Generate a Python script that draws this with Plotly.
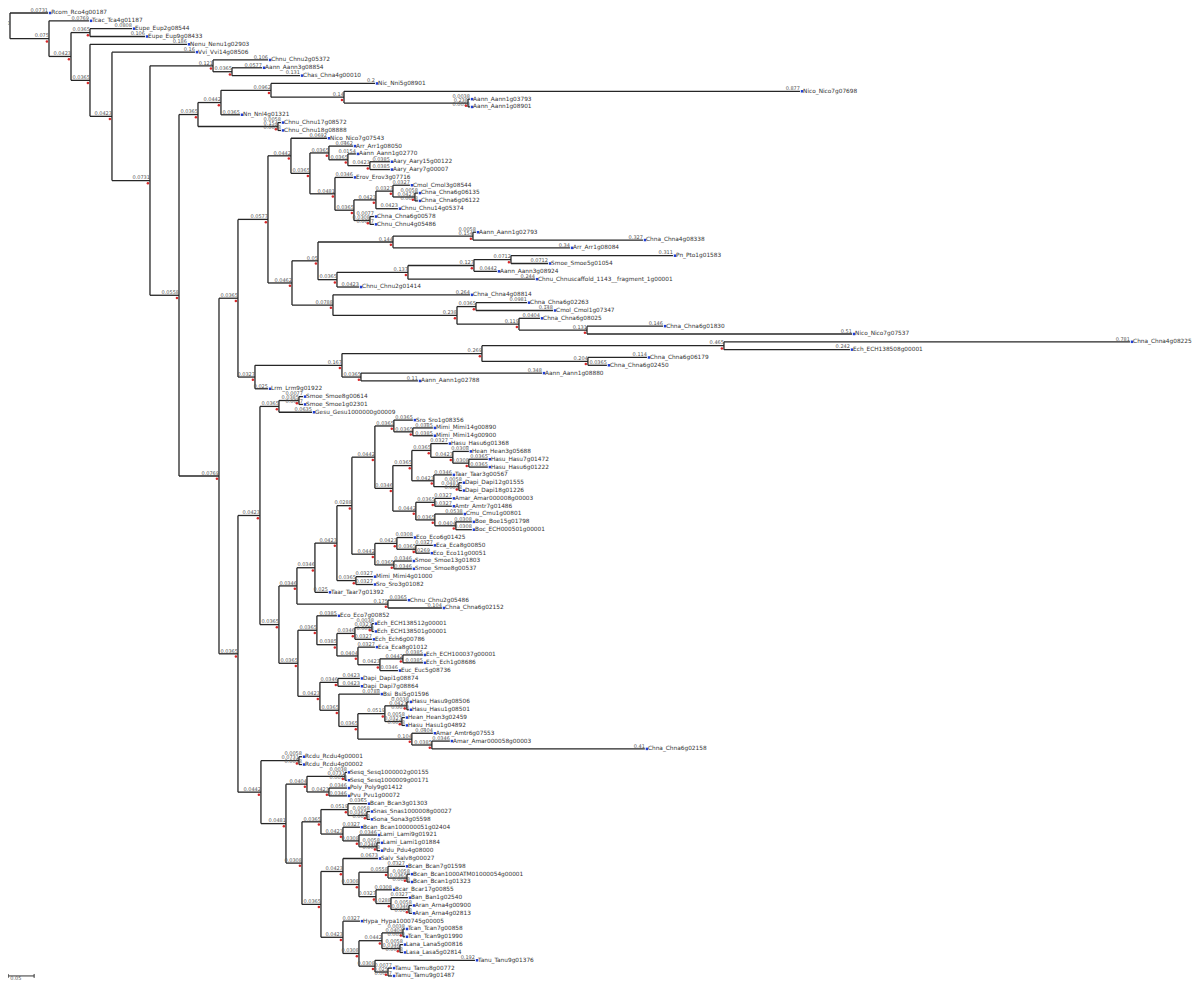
import plotly.graph_objects as go

# ---- tree data (newick pieces, branch lengths in substitutions/site) ----
clade_g = "(Chnu_Chnu2g05372:0.1058,(Aann_Aann3g08854:0.0577,Chas_Chna4g00010:0.1308):0.0365)"

clade_j = ("(((Nic_Nni5g08901:0.2,(Nico_Nico7g07698:0.8769,(Aann_Aann1g03793:0.0038,"
           "Aann_Aann1g08901:0.0038):0.2385):0.1404):0.0962,Nn_Nnl4g01321:0.0365):0.0442,"
           "(Chnu_Chnu17g08572:0.0058,Chnu_Chnu18g08888:0.0058):0.1538)")

clade_u = ("(Nico_Nico7g07543:0.0692,((Arr_Arr1g08050:0.0462,(Aann_Aann1g02770:0.0154,"
           "(Aary_Aary15g00122:0.0385,Aary_Aary7g00007:0.0385):0.0423):0.0365):0.0365,"
           "(Erov_Erov3g07716:0.0346,(((Cmol_Cmol3g08544:0.0327,(Chna_Chna6g06135:0.0058,"
           "Chna_Chna6g06122:0.0058):0.0423):0.0327,Chnu_Chnu14g05374:0.0423):0.0423,"
           "(Chna_Chna6g00578:0.0077,Chnu_Chnu4g05486:0.0077):0.0308):0.0365):0.0481):0.0365)")

clade_aa = ("((((Aann_Aann1g02793:0.0058,Chna_Chna4g08338:0.3269):0.1538,Arr_Arr1g08084:0.3404):0.1442,"
            "((((Pn_Pto1g01583:0.3115,Smoe_Smoe5g01054:0.0712):0.0712,Aann_Aann3g08924:0.0442):0.1269,"
            "Chnu_Chnuscaffold_1143__fragment_1g00001:0.2442):0.1365,Chnu_Chnu2g01414:0.0423):0.0365):0.05,"
            "(Chna_Chna4g08814:0.2635,((Chna_Chna6g02263:0.0981,Cmol_Cmol1g07347:0.1481):0.0365,"
            "(Chna_Chna6g08025:0.0404,(Chna_Chna6g01830:0.1462,Nico_Nico7g07537:0.5096):0.1308):0.1192):0.2385):0.0788)")

clade_an = ("((((Chna_Chna4g08225:0.7808,Ech_ECH138508g00001:0.2423):0.4654,"
            "(Chna_Chna6g06179:0.1135,Chna_Chna6g02450:0.0365):0.2038):0.2692,"
            "(Aann_Aann1g08880:0.3481,Aann_Aann1g02788:0.1096):0.0365):0.1673,Lrm_Lrm9g01922:0.025)")

clade_bc = "((Smoe_Smoe8g00614:0.0077,Smoe_Smoe1g02301:0.0077):0.0385,Gesu_Gesu1000000g00009:0.0635)"
clade_bk = "(Sro_Sro1g08356:0.0365,(Mimi_Mimi14g00890:0.0385,Mimi_Mimi14g00900:0.0385):0.0365)"
clade_bo = ("(Hasu_Hasu6g01368:0.0327,(Hean_Hean3g05688:0.0308,(Hasu_Hasu7g01472:0.0365,"
            "Hasu_Hasu6g01222:0.0365):0.0308):0.0423)")
clade_br = "(Taar_Taar3g00567:0.0346,(Dapi_Dapi12g01555:0.0058,Dapi_Dapi18g01226:0.0058):0.0481)"
clade_bt = ("((Amar_Amar000008g00003:0.0327,Amtr_Amtr7g01486:0.0327):0.0365,(Cmu_Cmu1g00801:0.0538,"
            "(Boe_Boe15g01798:0.0308,Boc_ECH000501g00001:0.0308):0.0404):0.0365)")
clade_bx = ("((Eco_Eco6g01425:0.0308,(Eca_Eca8g00850:0.0327,Eco_Eco11g00051:0.0269):0.0365):0.0423,"
            "(Smoe_Smoe13g01803:0.0346,Smoe_Smoe8g00537:0.0346):0.0365)")
clade_cb = "(Mimi_Mimi4g01000:0.0327,Sro_Sro3g01082:0.0327)"
clade_cc = "(Chnu_Chnu2g05486:0.0365,Chna_Chna6g02152:0.1038)"
clade_cg = "((Ech_ECH138512g00001:0.0038,Ech_ECH138501g00001:0.0038):0.0327,Ech_Ech6g00786:0.0327)"
clade_ci = ("(Eca_Eca8g01012:0.0327,((Ech_ECH100037g00001:0.0385,Ech_Ech1g08686:0.0385):0.0442,"
            "Euc_Euc5g08736:0.0346):0.0423)")
clade_cp = ("((Hasu_Hasu9g08506:0.0038,Hasu_Hasu1g08501:0.0038):0.0423,"
            "(Hean_Hean3g02459:0.0058,Hasu_Hasu1g04892:0.0058):0.0327)")
clade_cs = "(Amar_Amtr6g07553:0.0404,(Amar_Amar000058g00003:0.0346,Chna_Chna6g02158:0.4096):0.0385)"

clade_cv = "(Rcdu_Rcdu4g00001:0.0058,Rcdu_Rcdu4g00002:0.0058)"
clade_cx = ("((Sesq_Sesq1000002g00155:0.0038,Sesq_Sesq1000009g00171:0.0038):0.0731,"
            "(Poly_Poly9g01412:0.0346,Pvu_Pvu1g00072:0.0346):0.0423)")
clade_db = ("((Bcan_Bcan3g01303:0.0365,(Snas_Snas1000008g00027:0.0058,Sona_Sona3g05598:0.0058):0.0365):0.0519,"
            "(Bcan_Bcan100000051g02404:0.0327,(Lami_Lami9g01921:0.0346,(Lami_Lami1g01884:0.0058,"
            "Pdu_Pdu4g08000:0.0058):0.0346):0.0308):0.0423)")
clade_di = ("(Salv_Salv8g00027:0.0673,((Bcan_Bcan7g01598:0.0327,(Bcan_Bcan1000ATM01000054g00001:0.0058,"
            "Bcan_Bcan1g01323:0.0058):0.0365):0.0558,(Bcar_Bcar17g00855:0.0308,(Ban_Ban1g02540:0.0327,"
            "(Aran_Arna4g00900:0.0058,Aran_Arna4g02813:0.0058):0.0346):0.0288):0.0327):0.0308)")
clade_dp = ("(Hypa_Hypa1000745g00005:0.0327,(((Tcan_Tcan7g00858:0.0038,Tcan_Tcan9g01990:0.0038):0.0404,"
            "(Lana_Lana5g00816:0.0058,Lasa_Lasa5g02814:0.0058):0.0346):0.0442,(Tanu_Tanu9g01376:0.1923,"
            "(Tamu_Tamu8g00772:0.0077,Tamu_Tamu9g01487:0.0077):0.025):0.0308):0.0308)")

scale_bar_length = 0.05

# assemble the bigger clades from the pieces above
clade_bj = f"({clade_bk}:0.0365,(({clade_bo}:0.0365,{clade_br}:0.0423):0.0365,{clade_bt}:0.0442):0.0346)"
clade_bf = (f"(((({clade_bj}:0.0442,{clade_bx}:0.0442):0.0288,{clade_cb}:0.0365):0.0423,"
            f"Taar_Taar7g01392:0.025):0.0346,{clade_cc}:0.175)")
clade_cl = (f"((Dapi_Dapi1g08874:0.0423,Dapi_Dapi7g08864:0.0423):0.0346,(Bsi_Bsi5g01596:0.0788,"
            f"({clade_cp}:0.0519,{clade_cs}:0.1038):0.0365):0.0365)")
clade_cd = f"((Eco_Eco7g00852:0.0385,({clade_cg}:0.0346,{clade_ci}:0.0404):0.0385):0.0365,{clade_cl}:0.0423)"
clade_bb = f"({clade_bc}:0.0365,({clade_bf}:0.0346,{clade_cd}:0.0365):0.0365)"
clade_cu = (f"({clade_cv}:0.0731,({clade_cx}:0.0404,({clade_db}:0.0365,"
            f"({clade_di}:0.0423,{clade_dp}:0.0423):0.0365):0.0308):0.0481)")

newick_tree = (
    "(Rcom_Rco4g00187:0.0731,(Tcac_Tca4g01187:0.0769,((Eupe_Eup2g08544:0.0808,Eupe_Eup9g08433:0.1058):0.0365,"
    "(Nenu_Nenu1g02903:0.1865,(Vvi_Vvi14g08506:0.1596,(" + clade_g + ":0.1212,(" + clade_j + ":0.0365,((("
    + clade_u + ":0.0442," + clade_aa + ":0.0462):0.0577," + clade_an + ":0.0327):0.0365,("
    + clade_bb + ":0.0423," + clade_cu + ":0.0442):0.0365):0.0769):0.0558):0.0731):0.0423):0.0365):0.0423):0.0750);"
)


def parse_newick(text):
    pos = 0

    def read_node():
        nonlocal pos
        kids = []
        if text[pos] == "(":
            pos += 1
            kids.append(read_node())
            while text[pos] == ",":
                pos += 1
                kids.append(read_node())
            pos += 1
        start = pos
        while text[pos] not in ":,();":
            pos += 1
        name = text[start:pos]
        length = 0.0
        if text[pos] == ":":
            pos += 1
            start = pos
            while text[pos] not in ",();":
                pos += 1
            length = float(text[start:pos])
        return {"name": name, "len": length, "kids": kids}

    return read_node()


tree = parse_newick(newick_tree)
leaves, nodes = [], []


def place(node, x_parent):
    node["px"] = x_parent
    node["x"] = x_parent + node["len"]
    nodes.append(node)
    if node["kids"]:
        for kid in node["kids"]:
            place(kid, node["x"])
        node["y"] = (node["kids"][0]["y"] + node["kids"][-1]["y"]) / 2
    else:
        node["y"] = len(leaves)
        leaves.append(node)


place(tree, 0.0)


def fmt(v):
    return "0" if v == 0 else f"{v:.3g}"


edge_x, edge_y = [], []
for n in nodes:
    if n is not tree:
        edge_x += [n["px"], n["x"], None]
        edge_y += [n["y"], n["y"], None]
    if n["kids"]:
        edge_x += [n["x"], n["x"], None]
        edge_y += [n["kids"][0]["y"], n["kids"][-1]["y"], None]

inner = [n for n in nodes if n["kids"]]

fig = go.Figure()
fig.add_trace(go.Scatter(x=edge_x, y=edge_y, mode="lines",
                         line=dict(color="#262626", width=1.3), hoverinfo="skip"))

# branch length labels
fig.add_trace(go.Scatter(
    x=[n["x"] for n in nodes], y=[n["y"] for n in nodes],
    mode="text", text=[fmt(n["len"]) for n in nodes], cliponaxis=False,
    textposition="top left", textfont=dict(family="DejaVu Sans", size=5, color="#555555"),
    hoverinfo="skip"))

# internal node dots
fig.add_trace(go.Scatter(
    x=[n["x"] - 0.004 for n in inner], y=[n["y"] + 0.35 for n in inner],
    mode="markers", marker=dict(color="#d62728", size=2.5), cliponaxis=False, hoverinfo="skip"))

# leaf markers + names
fig.add_trace(go.Scatter(
    x=[n["x"] + 0.004 for n in leaves], y=[n["y"] for n in leaves],
    mode="markers", marker=dict(color="#1f3fd6", size=2.5, symbol="square"), hoverinfo="skip"))
fig.add_trace(go.Scatter(
    x=[n["x"] + 0.006 for n in leaves], y=[n["y"] for n in leaves],
    mode="text", text=[n["name"] for n in leaves], cliponaxis=False,
    textposition="middle right", textfont=dict(family="DejaVu Sans", size=5.8, color="#333333"),
    hovertext=[n["name"] for n in leaves], hoverinfo="text"))

# scale bar
n_leaves = len(leaves)
bar_x0 = -0.0036
bar_y = n_leaves - 1
fig.add_trace(go.Scatter(
    x=[bar_x0, bar_x0 + scale_bar_length, None, bar_x0, bar_x0, None,
       bar_x0 + scale_bar_length, bar_x0 + scale_bar_length],
    y=[bar_y, bar_y, None, bar_y - 0.25, bar_y + 0.25, None, bar_y - 0.25, bar_y + 0.25],
    mode="lines", line=dict(color="#333333", width=1), hoverinfo="skip"))
fig.add_trace(go.Scatter(
    x=[bar_x0 + 0.004], y=[bar_y + 0.1], mode="text", text=[fmt(scale_bar_length)],
    textposition="bottom right", textfont=dict(family="DejaVu Sans", size=5, color="#555555"),
    cliponaxis=False, hoverinfo="skip"))

fig.update_layout(
    width=1184, height=976,
    margin=dict(l=0, r=0, t=0, b=0),
    plot_bgcolor="white", paper_bgcolor="white",
    showlegend=False,
    xaxis=dict(visible=False, range=[-0.00385, 2.2731]),
    yaxis=dict(visible=False, range=[124.03, -0.639]),
)

fig.write_html("out.html")
